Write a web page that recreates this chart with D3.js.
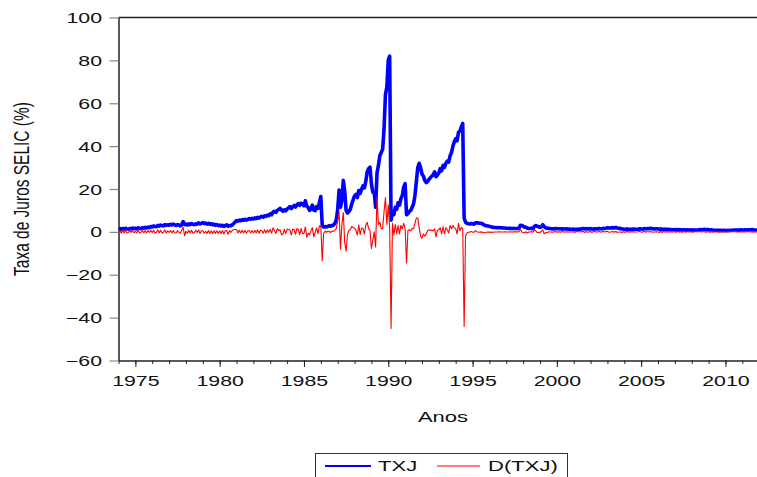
<!DOCTYPE html>
<html>
<head>
<meta charset="utf-8">
<script src="https://cdn.jsdelivr.net/npm/d3@7"></script>
<style>
  html, body { margin: 0; padding: 0; background: #fff; }
  svg { display: block; }
  text { font-family: "Liberation Sans", Arial, sans-serif; fill: #111; }
</style>
</head>
<body>
<script>
// ---------------- DATA ----------------
const startYear = 1974;          // first month: Jan 1974, monthly series
// TXJ: monthly SELIC rate (% per month), Jan 1974 - Dec 2011
const txj = [
  1.2,1.5,1.1,1.6,1.3,1.7,1.4,1.2,1.6,1.4,1.8,1.5,      // 1974
  1.7,1.4,1.9,1.6,1.5,2.0,1.7,2.1,1.8,2.2,2.0,2.5,      // 1975
  2.3,2.8,2.5,2.4,3.0,2.7,3.2,2.9,2.8,3.4,3.0,3.3,      // 1976
  3.1,3.5,3.2,3.6,3.3,3.0,3.4,3.2,2.8,3.3,4.8,3.4,      // 1977
  3.6,3.2,3.7,3.4,3.9,3.5,3.3,3.8,3.6,4.2,3.7,4.0,      // 1978
  4.3,3.9,4.1,3.6,4.0,3.5,3.8,3.3,3.6,3.1,3.4,2.9,      // 1979
  3.2,2.7,3.1,2.5,2.9,3.3,2.6,3.0,2.8,3.3,3.9,4.6,      // 1980
  5.3,5.0,5.5,5.2,5.7,5.4,5.9,5.5,5.8,6.2,5.9,6.3,      // 1981
  6.0,6.5,6.2,6.8,6.4,6.9,7.3,6.9,7.5,7.2,7.8,7.6,      // 1982
  8.4,8.0,9.2,9.6,9.1,10.0,10.4,11.0,10.2,9.6,10.3,9.8, // 1983
  10.6,11.2,11.8,10.9,11.7,12.3,11.6,12.6,13.2,12.4,13.4,12.9, // 1984
  12.2,14.5,12.0,11.4,10.0,10.6,12.5,10.2,9.9,11.8,11.0,13.8,  // 1985
  16.5,3.0,2.2,2.5,2.3,2.6,2.9,2.6,3.0,3.2,4.0,5.5,     // 1986
  10.5,19.5,11.5,15.0,24.0,19.0,10.0,8.8,9.5,10.5,13.0,15.0,   // 1987
  16.8,17.5,16.0,19.3,18.0,19.8,21.5,20.5,23.5,28.0,29.5,30.2, // 1988
  22.5,18.5,18.5,11.5,27.5,31.0,35.5,37.0,38.5,48.0,64.0,67.5, // 1989
  80.0,82.0,5.5,9.5,8.0,11.5,10.5,13.5,12.5,15.5,17.0,21.0,    // 1990
  22.5,8.0,8.5,9.5,10.0,11.5,13.0,17.0,23.5,30.0,32.0,30.0,    // 1991
  27.0,26.0,24.0,23.0,23.5,24.5,25.3,26.0,26.6,28.0,25.7,26.5, // 1992
  27.5,29.5,28.5,31.0,30.0,32.0,33.0,32.5,35.5,37.0,40.0,42.0, // 1993
  43.5,42.5,46.5,47.0,49.0,50.6,6.5,4.5,4.0,3.8,3.7,3.9,       // 1994
  3.8,3.6,4.2,4.3,4.2,4.0,4.0,3.8,3.3,3.0,2.8,2.7,             // 1995
  2.58,2.35,2.22,2.07,2.01,1.98,1.93,1.97,1.90,1.86,1.80,1.80, // 1996
  1.73,1.67,1.64,1.66,1.58,1.61,1.60,1.59,1.59,1.67,3.04,2.97, // 1997
  2.67,2.13,2.20,1.71,1.63,1.60,1.70,1.48,2.49,2.94,2.63,2.40, // 1998
  2.18,2.38,3.33,2.35,2.02,1.67,1.66,1.57,1.49,1.38,1.39,1.60, // 1999
  1.46,1.45,1.45,1.30,1.49,1.39,1.31,1.41,1.22,1.29,1.22,1.20, // 2000
  1.27,1.02,1.26,1.19,1.34,1.27,1.50,1.60,1.32,1.53,1.39,1.39, // 2001
  1.53,1.25,1.37,1.48,1.41,1.33,1.54,1.44,1.38,1.65,1.54,1.74, // 2002
  1.97,1.83,1.78,1.87,1.97,1.86,2.08,1.77,1.68,1.64,1.34,1.37, // 2003
  1.27,1.08,1.38,1.18,1.23,1.23,1.29,1.29,1.25,1.21,1.25,1.48, // 2004
  1.38,1.22,1.53,1.41,1.50,1.59,1.51,1.66,1.50,1.41,1.38,1.47, // 2005
  1.43,1.15,1.42,1.08,1.28,1.18,1.17,1.26,1.06,1.09,1.02,0.99, // 2006
  1.08,0.87,1.05,0.94,1.03,0.91,0.97,0.99,0.80,0.93,0.84,0.84, // 2007
  0.93,0.80,0.84,0.90,0.88,0.96,1.07,1.02,1.10,1.18,1.02,1.12, // 2008
  1.05,0.86,0.97,0.84,0.77,0.76,0.79,0.69,0.69,0.69,0.66,0.73, // 2009
  0.66,0.59,0.76,0.67,0.75,0.79,0.86,0.89,0.85,0.81,0.81,0.93, // 2010
  0.86,0.84,0.92,0.84,0.99,0.96,0.97,1.07,0.94,0.88,0.86,0.91  // 2011
];
// D(TXJ): first difference, Feb 1974 - Dec 2011
const dStart = 1974 + 1 / 12;
const dtxj = [
  0.5,-0.6,0.8,-0.5,0.6,-0.5,-0.3,0.6,-0.3,0.6,-0.5,            // 1974
  0.3,-0.5,0.8,-0.5,-0.2,0.8,-0.5,0.6,-0.5,0.6,-0.3,0.8,        // 1975
  -0.3,0.8,-0.5,-0.2,1.0,-0.5,0.8,-0.5,-0.2,1.0,-0.6,0.5,       // 1976
  -0.3,0.6,-0.5,0.6,-0.5,-0.5,0.6,-0.3,-0.6,0.8,2.2,-1.8,       // 1977
  0.3,-0.6,0.8,-0.5,0.8,-0.6,-0.3,0.8,-0.3,1.0,-0.8,0.5,        // 1978
  0.5,-0.6,0.3,-0.8,0.6,-0.8,0.5,-0.8,0.5,-0.8,0.5,-0.8,        // 1979
  0.5,-0.8,0.6,-1.0,0.6,0.6,-1.1,0.6,-0.3,0.8,1.0,1.1,          // 1980
  1.1,-0.5,0.8,-0.5,0.8,-0.5,0.8,-0.6,0.5,0.6,-0.5,0.6,         // 1981
  -0.5,0.8,-0.5,1.0,-0.6,0.8,0.6,-0.6,1.0,-0.5,1.0,-0.3,        // 1982
  1.3,-0.6,1.9,0.6,-0.8,1.4,0.6,1.0,-1.3,-1.0,1.1,-0.8,         // 1983
  1.3,1.0,1.0,-1.4,1.3,1.0,-1.1,1.6,1.0,-1.3,1.6,-0.8,          // 1984
  -0.7,2.3,-2.5,-0.6,-1.4,0.6,1.9,-2.3,-0.3,1.9,-0.8,2.8,       // 1985
  2.7,-13.5,-0.8,0.3,-0.2,0.3,0.3,-0.3,0.4,0.2,0.8,1.5,         // 1986
  5.0,9.0,-8.0,3.5,9.0,-5.0,-9.0,-1.2,0.7,1.0,2.5,2.0,          // 1987
  1.8,0.7,-1.5,3.3,-1.3,1.8,1.7,-1.0,3.0,4.5,1.5,0.7,           // 1988
  -7.7,-4.0,0.0,-7.0,16.0,3.5,4.5,1.5,1.5,9.5,16.0,3.5,         // 1989
  12.5,2.0,-45.0,4.0,-1.5,3.5,-1.0,3.0,-1.0,3.0,1.5,4.0,        // 1990
  1.5,-14.5,0.5,1.0,0.5,1.5,1.5,4.0,6.5,6.5,2.0,-2.0,           // 1991
  -3.0,-1.0,-2.0,-1.0,0.5,1.0,0.8,0.7,0.6,1.4,-2.3,0.8,         // 1992
  1.0,2.0,-1.0,2.5,-1.0,2.0,1.0,-0.5,3.0,1.5,3.0,2.0,           // 1993
  1.5,-1.0,4.0,0.5,2.0,1.6,-44.1,-2.0,-0.5,-0.2,-0.1,0.2,       // 1994
  -0.1,-0.2,0.6,0.1,-0.1,-0.2,0.0,-0.2,-0.5,-0.3,-0.2,-0.1,     // 1995
  -0.12,-0.23,-0.13,-0.15,-0.06,-0.03,-0.05,0.04,-0.07,-0.04,-0.06,0.0, // 1996
  -0.07,-0.06,-0.03,0.02,-0.08,0.03,-0.01,-0.01,0.0,0.08,1.37,-0.07,    // 1997
  -0.30,-0.54,0.07,-0.49,-0.08,-0.03,0.10,-0.22,1.01,0.45,-0.31,-0.23,  // 1998
  -0.22,0.20,0.95,-0.98,-0.33,-0.35,-0.01,-0.09,-0.08,-0.11,0.01,0.21,  // 1999
  -0.14,-0.01,0.0,-0.15,0.19,-0.10,-0.08,0.10,-0.19,0.07,-0.07,-0.02,   // 2000
  0.07,-0.25,0.24,-0.07,0.15,-0.07,0.23,0.10,-0.28,0.21,-0.14,0.0,      // 2001
  0.14,-0.28,0.12,0.11,-0.07,-0.08,0.21,-0.10,-0.06,0.27,-0.11,0.20,    // 2002
  0.23,-0.14,-0.05,0.09,0.10,-0.11,0.22,-0.31,-0.09,-0.04,-0.30,0.03,   // 2003
  -0.10,-0.19,0.30,-0.20,0.05,0.0,0.06,0.0,-0.04,-0.04,0.04,0.23,       // 2004
  -0.10,-0.16,0.31,-0.12,0.09,0.09,-0.08,0.15,-0.16,-0.09,-0.03,0.09,   // 2005
  -0.04,-0.28,0.27,-0.34,0.20,-0.10,-0.01,0.09,-0.20,0.03,-0.07,-0.03,  // 2006
  0.09,-0.21,0.18,-0.11,0.09,-0.12,0.06,0.02,-0.19,0.13,-0.09,0.0,      // 2007
  0.09,-0.13,0.04,0.06,-0.02,0.08,0.11,-0.05,0.08,0.08,-0.16,0.10,      // 2008
  -0.07,-0.19,0.11,-0.13,-0.07,-0.01,0.03,-0.10,0.0,0.0,-0.03,0.07,     // 2009
  -0.07,-0.07,0.17,-0.09,0.08,0.04,0.07,0.03,-0.04,-0.04,0.0,0.12,      // 2010
  -0.07,-0.02,0.08,-0.08,0.15,-0.03,0.01,0.10,-0.13,-0.06,-0.02,0.05    // 2011
];
const xLabelYears = [1975, 1980, 1985, 1990, 1995, 2000, 2005, 2010];
const yTicks = [-60, -40, -20, 0, 20, 40, 60, 80, 100];
const xTitle = "Anos";
const yTitle = "Taxa de Juros SELIC (%)";
const seriesNames = ["TXJ", "D(TXJ)"];

// ---------------- LAYOUT ----------------
const W = 757, H = 477;
const pLeft = 118.5, pTop = 17.5, pBottom = 360.5;
const yearPx = 16.86;
const sx = 1.47; // horizontal text stretch of the original picture

const svg = d3.select("body").append("svg").attr("width", W).attr("height", H);

const x = d3.scaleLinear().domain([1974, 2012]).range([pLeft, pLeft + 38 * yearPx]);
const y = d3.scaleLinear().domain([-60, 100]).range([pBottom, pTop]);

svg.append("defs").append("clipPath").attr("id", "plot")
  .append("rect").attr("x", pLeft).attr("y", pTop - 5).attr("width", W - pLeft).attr("height", pBottom - pTop + 10);

// frame top line
svg.append("line").attr("x1", pLeft).attr("x2", W).attr("y1", pTop).attr("y2", pTop)
  .attr("stroke", "#222").attr("stroke-width", 1.3);

// lines
const txjPts = txj.map((v, i) => [startYear + i / 12, v]);
const dPts = dtxj.map((v, i) => [dStart + i / 12, v]);
const line = d3.line().x(d => x(d[0])).y(d => y(d[1]));

const g = svg.append("g").attr("clip-path", "url(#plot)");
g.append("path").datum(txjPts).attr("d", line)
  .attr("fill", "none").attr("stroke", "#0000ff").attr("stroke-width", 3.6)
  .attr("stroke-linejoin", "round");
g.append("path").datum(dPts).attr("d", line)
  .attr("fill", "none").attr("stroke", "#ff0000").attr("stroke-width", 1.1)
  .attr("stroke-linejoin", "round");

// Y axis
const yAxis = d3.axisLeft(y).tickValues(yTicks).tickSize(9).tickSizeOuter(0).tickFormat(d3.format("d"));
const yg = svg.append("g").attr("transform", `translate(${pLeft},0)`).call(yAxis);
yg.select(".domain").attr("stroke", "#222").attr("stroke-width", 1.5);
yg.selectAll(".tick line").attr("stroke", "#888").attr("stroke-width", 1.2);
yg.selectAll(".tick text")
  .attr("x", -(pLeft - 102) / sx).attr("y", 5).attr("dy", null)
  .attr("transform", `scale(${sx},1)`)
  .style("font-size", "14.5px").style("font-family", '"Liberation Sans", Arial, sans-serif')
  .attr("fill", "#111");

// X axis: minor yearly ticks
const minorYears = d3.range(1974, 2013);
const xMinor = d3.axisBottom(x).tickValues(minorYears).tickSize(3.5).tickSizeOuter(0).tickFormat("");
const xmg = svg.append("g").attr("transform", `translate(0,${pBottom})`).call(xMinor);
xmg.select(".domain").remove();
xmg.selectAll(".tick line").attr("stroke", "#222");

const xAxis = d3.axisBottom(x).tickValues(xLabelYears).tickSize(6.5).tickSizeOuter(0).tickFormat(d3.format("d"));
const xg = svg.append("g").attr("transform", `translate(0,${pBottom})`).call(xAxis);
xg.select(".domain").attr("stroke", "#222").attr("stroke-width", 1.5);
xg.selectAll(".tick line").attr("stroke", "#222");
xg.selectAll(".tick text")
  .attr("y", 25.5).attr("dy", null)
  .attr("transform", `scale(${sx},1)`)
  .style("font-size", "14.5px").style("font-family", '"Liberation Sans", Arial, sans-serif')
  .attr("fill", "#111");

// Titles
svg.append("g").attr("transform", `translate(443,422) scale(${sx},1)`)
  .append("text").attr("text-anchor", "middle").style("font-size", "15px").text(xTitle);

svg.append("g").attr("transform", `translate(29,189) scale(${sx},1) rotate(-90)`)
  .append("text").attr("text-anchor", "middle").style("font-size", "15.5px").text(yTitle);

// Legend
const lg = svg.append("g");
lg.append("rect").attr("x", 315.5).attr("y", 453.5).attr("width", 252).attr("height", 30)
  .attr("fill", "#fff").attr("stroke", "#333").attr("stroke-width", 1);
lg.append("line").attr("x1", 325).attr("x2", 371).attr("y1", 466).attr("y2", 466)
  .attr("stroke", "#0000ff").attr("stroke-width", 2.2);
lg.append("g").attr("transform", `translate(378,471) scale(${sx},1)`)
  .append("text").style("font-size", "15px").text(seriesNames[0]);
lg.append("line").attr("x1", 437).attr("x2", 480).attr("y1", 466).attr("y2", 466)
  .attr("stroke", "#ff0000").attr("stroke-width", 1);
lg.append("g").attr("transform", `translate(488,471) scale(${sx},1)`)
  .append("text").style("font-size", "15px").text(seriesNames[1]);
</script>
</body>
</html>
